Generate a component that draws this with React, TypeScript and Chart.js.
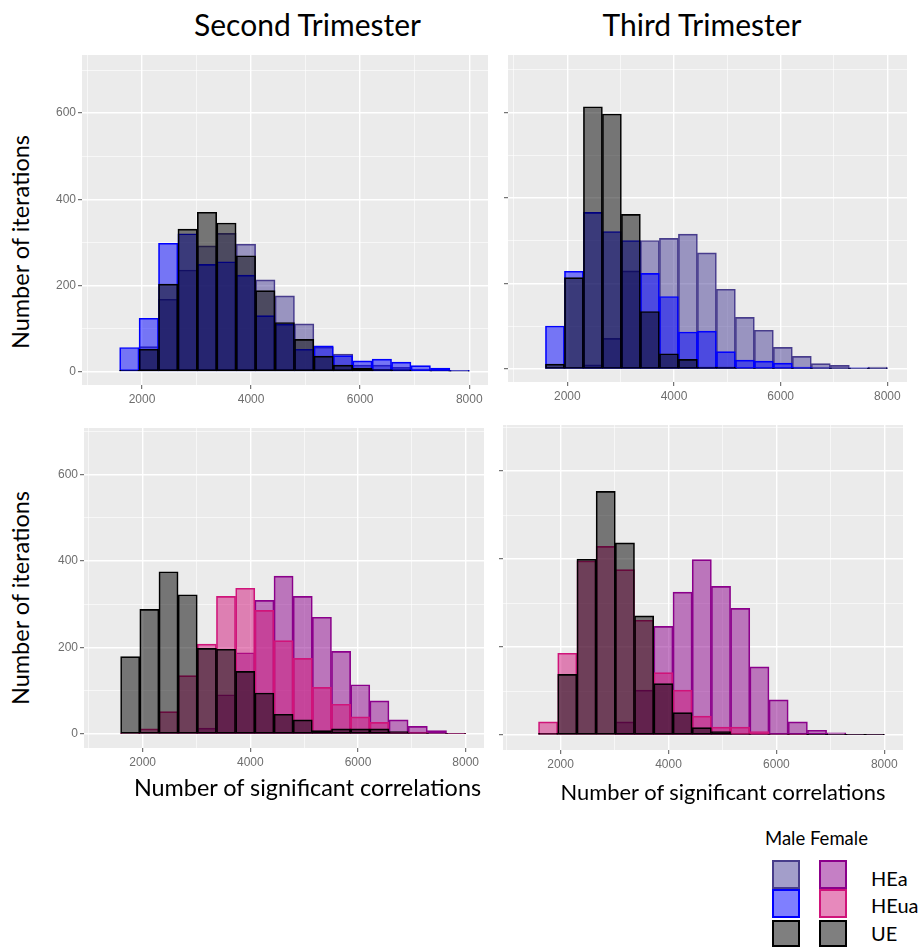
import React, { useEffect, useRef } from 'react';
import { Chart, registerables } from 'chart.js';

Chart.register(...registerables);

// ---------------- data ----------------
const BIN_CENTERS = [1768, 2124, 2480, 2836, 3192, 3548, 3905, 4261, 4617, 4973, 5329, 5685, 6041, 6397, 6753, 7110, 7466, 7822];
const X_GRID_TICKS = [1000, 2000, 3000, 4000, 5000, 6000, 7000, 8000];
const X_TICK_LABELS = [2000, 4000, 6000, 8000];
const Y_GRID_TICKS = [0, 100, 200, 300, 400, 500, 600, 700];
const Y_TICK_LABELS = [0, 200, 400, 600];
const GROUPS = ['HEa', 'HEua', 'UE'];

// Second trimester, male
const SECOND_MALE_HEA = [2, 58, 168, 236, 292, 321, 296, 213, 176, 111, 57, 41, 15, 15, 10, 6, 3, 1];
const SECOND_MALE_HEUA = [56, 124, 298, 320, 249, 255, 224, 130, 110, 52, 60, 37, 25, 29, 22, 14, 8, 3];
const SECOND_MALE_UE = [3, 52, 203, 331, 370, 345, 269, 188, 114, 75, 36, 15, 8, 5, 4, 2, 1, 1];

// Third trimester, male
const THIRD_MALE_HEA = [2, 3, 10, 72, 230, 301, 306, 316, 272, 187, 121, 91, 51, 30, 13, 9, 3, 5];
const THIRD_MALE_HEUA = [101, 229, 367, 322, 301, 224, 170, 87, 89, 41, 21, 19, 14, 5, 3, 2, 3, 1];
const THIRD_MALE_UE = [12, 214, 614, 597, 362, 135, 36, 23, 5, 5, 1, 1, 1, 1, 1, 1, 1, 1];

// Second trimester, female
const SECOND_FEMALE_HEA = [0, 0, 2, 2, 14, 91, 188, 309, 365, 318, 270, 191, 114, 77, 33, 18, 8, 1];
const SECOND_FEMALE_HEUA = [1, 12, 52, 135, 208, 318, 337, 286, 216, 175, 108, 69, 40, 27, 5, 5, 2, 1];
const SECOND_FEMALE_UE = [179, 288, 375, 322, 198, 196, 145, 95, 46, 33, 8, 12, 12, 12, 6, 3, 2, 2];

// Third trimester, female
const THIRD_FEMALE_HEA = [0, 0, 0, 0, 30, 102, 247, 325, 399, 338, 288, 155, 80, 30, 11, 5, 1, 1];
const THIRD_FEMALE_HEUA = [30, 186, 396, 429, 376, 261, 142, 102, 43, 18, 18, 8, 2, 1, 0, 0, 0, 0];
const THIRD_FEMALE_UE = [4, 138, 400, 554, 437, 271, 117, 51, 17, 8, 3, 2, 2, 2, 1, 1, 1, 1];

// ---------------- styles ----------------
const MALE_STYLE = {
  HEa: { fill: 'rgba(72,61,150,0.5)', border: '#483D8B' },
  HEua: { fill: 'rgba(0,0,255,0.5)', border: '#0000FF' },
  UE: { fill: 'rgba(0,0,0,0.5)', border: '#000000' },
};
const FEMALE_STYLE = {
  HEa: { fill: 'rgba(139,0,139,0.5)', border: '#8B008B' },
  HEua: { fill: 'rgba(208,20,122,0.5)', border: '#D0147A' },
  UE: { fill: 'rgba(0,0,0,0.5)', border: '#000000' },
};

const TEXT_FONT = 'Lato, "Open Sans", sans-serif';
const TICK_FONT = '"Liberation Sans", Arial, sans-serif';
const Y_AXIS_W = 40;
const X_AXIS_H = 26;

type PanelCfg = {
  area: { left: number; top: number; right: number; bottom: number };
  xRange: [number, number];
  yRange: [number, number];
  series: { HEa: number[]; HEua: number[]; UE: number[] };
  style: typeof MALE_STYLE;
  yLabels: boolean;
};

const PANELS: PanelCfg[] = [
  {
    area: { left: 82, top: 55, right: 488, bottom: 385 },
    xRange: [900, 8343], yRange: [-31, 735],
    series: { HEa: SECOND_MALE_HEA, HEua: SECOND_MALE_HEUA, UE: SECOND_MALE_UE },
    style: MALE_STYLE, yLabels: true,
  },
  {
    area: { left: 508, top: 55, right: 907, bottom: 382 },
    xRange: [888, 8369], yRange: [-30, 735],
    series: { HEa: THIRD_MALE_HEA, HEua: THIRD_MALE_HEUA, UE: THIRD_MALE_UE },
    style: MALE_STYLE, yLabels: false,
  },
  {
    area: { left: 84, top: 428, right: 484, bottom: 748 },
    xRange: [910, 8340], yRange: [-32, 707],
    series: { HEa: SECOND_FEMALE_HEA, HEua: SECOND_FEMALE_HEUA, UE: SECOND_FEMALE_UE },
    style: FEMALE_STYLE, yLabels: true,
  },
  {
    area: { left: 503, top: 425, right: 903, bottom: 750 },
    xRange: [932, 8347], yRange: [-34, 705],
    series: { HEa: THIRD_FEMALE_HEA, HEua: THIRD_FEMALE_HEUA, UE: THIRD_FEMALE_UE },
    style: FEMALE_STYLE, yLabels: false,
  },
];

const panelBg = {
  id: 'panelBg',
  beforeDraw(chart: any) {
    const { ctx, chartArea: a } = chart;
    ctx.save();
    ctx.fillStyle = '#EBEBEB';
    ctx.fillRect(a.left, a.top, a.right - a.left, a.bottom - a.top);
    ctx.restore();
  },
};

function Panel({ cfg }: { cfg: PanelCfg }) {
  const ref = useRef<HTMLCanvasElement | null>(null);
  const left = cfg.area.left - Y_AXIS_W;
  const top = cfg.area.top;
  const width = cfg.area.right - left;
  const height = cfg.area.bottom - top + X_AXIS_H;

  useEffect(() => {
    if (!ref.current) return;
    // draw order: HEa first (bottom), then HEua, UE on top -> index 0 is drawn last
    const order = ['UE', 'HEua', 'HEa'];
    const datasets = order.map((g) => ({
      label: g,
      data: BIN_CENTERS.map((x, i) => ({ x, y: (cfg.series as any)[g][i] })),
      backgroundColor: (cfg.style as any)[g].fill,
      borderColor: (cfg.style as any)[g].border,
      borderWidth: 1,
      borderSkipped: false as any,
      grouped: false,
      barPercentage: 1,
      categoryPercentage: 1,
    }));
    const isMajorX = (v: number) => X_TICK_LABELS.includes(Math.round(Number(v)));
    const isMajorY = (v: number) => Y_TICK_LABELS.includes(Math.round(Number(v)));
    const zeroPad = (s: any) => {
      s.paddingTop = 0; s.paddingBottom = 0; s.paddingLeft = 0; s.paddingRight = 0;
    };
    const chart = new Chart(ref.current, {
      type: 'bar',
      data: { datasets: datasets as any },
      options: {
        animation: false,
        responsive: false,
        events: [],
        layout: { padding: 0 },
        plugins: { legend: { display: false }, tooltip: { enabled: false }, title: { display: false } },
        scales: {
          x: {
            type: 'linear',
            min: cfg.xRange[0],
            max: cfg.xRange[1],
            offset: false,
            afterBuildTicks: (s: any) => { s.ticks = X_GRID_TICKS.map((v) => ({ value: v })); },
            afterFit: (s: any) => { s.height = X_AXIS_H; zeroPad(s); },
            border: { display: false },
            grid: {
              offset: false,
              color: (c: any) => (isMajorX(c.tick?.value) ? '#FFFFFF' : 'rgba(255,255,255,0.75)'),
              lineWidth: (c: any) => (isMajorX(c.tick?.value) ? 1.4 : 0.8),
              drawTicks: true,
              tickLength: 4,
              tickWidth: 1,
              tickColor: (c: any) => (isMajorX(c.tick?.value) ? '#555555' : 'rgba(0,0,0,0)'),
            },
            ticks: {
              autoSkip: false,
              maxRotation: 0,
              padding: 3,
              color: '#6E6E6E',
              font: { family: TICK_FONT, size: 12 },
              callback: (v: any) => (isMajorX(v) ? String(Math.round(Number(v))) : ''),
            },
          },
          y: {
            type: 'linear',
            min: cfg.yRange[0],
            max: cfg.yRange[1],
            afterBuildTicks: (s: any) => { s.ticks = Y_GRID_TICKS.map((v) => ({ value: v })); },
            afterFit: (s: any) => { s.width = Y_AXIS_W; zeroPad(s); },
            border: { display: false },
            grid: {
              color: (c: any) => (isMajorY(c.tick?.value) ? '#FFFFFF' : 'rgba(255,255,255,0.75)'),
              lineWidth: (c: any) => (isMajorY(c.tick?.value) ? 1.4 : 0.8),
              drawTicks: true,
              tickLength: 4,
              tickWidth: 1,
              tickColor: (c: any) => (isMajorY(c.tick?.value) ? '#555555' : 'rgba(0,0,0,0)'),
            },
            ticks: {
              autoSkip: false,
              padding: 2,
              color: '#6E6E6E',
              font: { family: TICK_FONT, size: 12 },
              callback: (v: any) => (cfg.yLabels && isMajorY(v) ? String(Math.round(Number(v))) : ''),
            },
          },
        },
      },
      plugins: [panelBg],
    });
    return () => chart.destroy();
  }, []);

  return (
    <canvas
      ref={ref}
      width={width}
      height={height}
      style={{ position: 'absolute', left, top, width, height }}
    />
  );
}

function Text({ x, y, text, size, rotate = false }: { x: number; y: number; text: string; size: number; rotate?: boolean }) {
  return (
    <div
      style={{
        position: 'absolute',
        left: x,
        top: y,
        transform: `translate(-50%, -50%)${rotate ? ' rotate(-90deg)' : ''}`,
        fontFamily: TEXT_FONT,
        fontSize: size,
        lineHeight: 1,
        whiteSpace: 'nowrap',
        color: '#000',
      }}
    >
      {text}
    </div>
  );
}

function Legend() {
  const boxW = 28;
  const rows = [
    { g: 'HEa', top: 860, h: 29, labelY: 878 },
    { g: 'HEua', top: 889, h: 29, labelY: 905 },
    { g: 'UE', top: 920, h: 27, labelY: 933 },
  ];
  return (
    <>
      <div style={{ position: 'absolute', left: 765, top: 838, transform: 'translateY(-50%)', fontFamily: TEXT_FONT, fontSize: 18.5, lineHeight: 1, whiteSpace: 'nowrap' }}>
        Male Female
      </div>
      {rows.map((r) => (
        <React.Fragment key={r.g}>
          <div style={{ position: 'absolute', left: 772, top: r.top, width: boxW, height: r.h, boxSizing: 'border-box', border: `2px solid ${(MALE_STYLE as any)[r.g].border}`, background: (MALE_STYLE as any)[r.g].fill }} />
          <div style={{ position: 'absolute', left: 819, top: r.top, width: boxW, height: r.h, boxSizing: 'border-box', border: `2px solid ${(FEMALE_STYLE as any)[r.g].border}`, background: (FEMALE_STYLE as any)[r.g].fill }} />
          <div style={{ position: 'absolute', left: 871, top: r.labelY, transform: 'translateY(-50%)', fontFamily: TEXT_FONT, fontSize: 20, lineHeight: 1, whiteSpace: 'nowrap' }}>
            {r.g}
          </div>
        </React.Fragment>
      ))}
    </>
  );
}

export default function App() {
  return (
    <div style={{ position: 'absolute', left: 0, top: 0, width: 921, height: 948, background: '#FFFFFF', overflow: 'hidden' }}>
      {PANELS.map((p, i) => (
        <Panel key={i} cfg={p} />
      ))}
      <Text x={307.5} y={24} text="Second Trimester" size={30} />
      <Text x={702} y={24} text="Third Trimester" size={30} />
      <Text x={20.5} y={241.5} text="Number of iterations" size={23.5} rotate />
      <Text x={20.5} y={597.5} text="Number of iterations" size={23.5} rotate />
      <Text x={307.5} y={788} text="Number of significant correlations" size={23.4} />
      <Text x={723} y={791.5} text="Number of significant correlations" size={21.9} />
      <Legend />
    </div>
  );
}
